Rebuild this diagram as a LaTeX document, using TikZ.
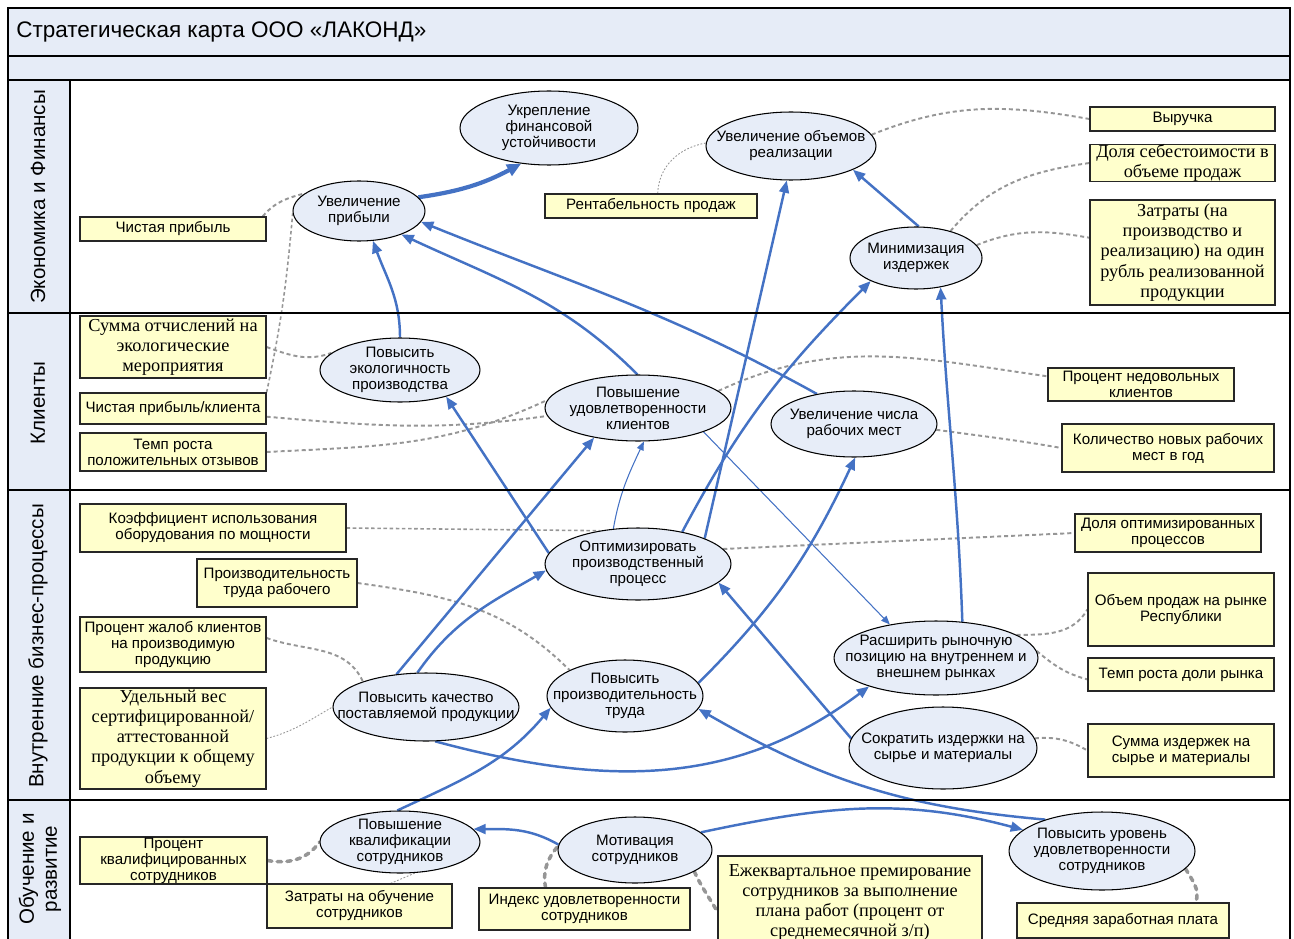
\documentclass[tikz,border=0pt]{standalone}
\usepackage{fontspec}
\setmainfont{Liberation Sans}
\newfontfamily\tnr{Liberation Serif}
\usetikzlibrary{shapes.geometric,arrows.meta,backgrounds}
\definecolor{bandfill}{RGB}{230,236,247}
\definecolor{goalfill}{RGB}{231,237,248}
\definecolor{kpifill}{RGB}{255,255,204}
\definecolor{arrblue}{RGB}{68,114,196}
\definecolor{linkgray}{RGB}{150,150,150}
\newcommand{\goalfont}{\fontsize{8.6}{9.1}\selectfont}
\newcommand{\kpiserif}{\tnr\fontsize{10.4}{11.5}\selectfont}
\newcommand{\lanefont}{\fontsize{11.7}{13}\selectfont}
\begin{document}
\begin{tikzpicture}[x=0.02cm, y=-0.02cm,
  goal/.style={ellipse, draw=black, line width=0.6pt, fill=goalfill, inner sep=0pt},
  goaltxt/.style={align=center, font=\goalfont, inner sep=0pt},
  kpi/.style={rectangle, draw=black!85, line width=0.7pt, fill=kpifill, inner sep=0pt, align=center, font=\goalfont},
  kpiser/.style={kpi, font=\kpiserif},
  arr/.style={draw=arrblue, line width=1.4pt, -{Triangle[length=7pt, width=5.6pt]}},
  arrthin/.style={draw=arrblue, line width=0.6pt, -{Triangle[length=5pt, width=4pt]}},
  arrbold/.style={draw=arrblue, line width=2.4pt, -{Triangle[length=8pt, width=7pt]}},
  link/.style={draw=linkgray, line width=1.1pt, dash pattern=on 2.3pt off 1.7pt},
  linkmid/.style={draw=linkgray, line width=0.9pt, dash pattern=on 2pt off 1.5pt},
  linkthin/.style={draw=linkgray, line width=0.5pt, dash pattern=on 1pt off 1pt},
  linkbold/.style={draw=linkgray, line width=2pt, dash pattern=on 2.5pt off 3pt, line cap=round},
  lanelabel/.style={rotate=90, align=center, font=\lanefont, inner sep=0pt}]
\useasboundingbox (0,0) rectangle (1294,939);

% frame and lanes
\fill[bandfill] (8,8) rectangle (1290,80);
\fill[bandfill] (8,80) rectangle (70,939);
\draw[line width=0.8pt] (8,939) -- (8,8) -- (1290,8) -- (1290,939);
\foreach \y in {56,80,313,490,800}
  \draw[line width=0.8pt] (8,\y) -- (1290,\y);
\draw[line width=0.8pt] (70,80) -- (70,939);
\node[anchor=west, font=\fontsize{12.8}{15}\selectfont, inner sep=0pt] (title) at (16,32) {Стратегическая карта ООО «ЛАКОНД»};
\node[lanelabel] (lane1) at (38,197) {Экономика и Финансы};
\node[lanelabel] (lane2) at (38,403) {Клиенты};
\node[lanelabel] (lane3) at (38,646) {Внутренние бизнес-процессы};
\node[lanelabel] (lane4) at (40,869) {Обучение и\\развитие};

% goals
\node[goal, minimum width=3.56cm, minimum height=1.48cm, label={[goaltxt]center:Укрепление\\финансовой\\устойчивости}] (ukr) at (549,128) {};
\node[goal, minimum width=2.64cm, minimum height=1.2cm, label={[goaltxt]center:Увеличение\\прибыли}] (prib) at (359,211) {};
\node[goal, minimum width=3.4cm, minimum height=1.36cm, label={[goaltxt]center:Увеличение объемов\\реализации}] (real) at (791,146) {};
\node[goal, minimum width=2.64cm, minimum height=1.24cm, label={[goaltxt]center:Минимизация\\издержек}] (min) at (916,258) {};
\node[goal, minimum width=3.2cm, minimum height=1.28cm, label={[goaltxt]center:Повысить\\экологичность\\производства}] (eco) at (400,370) {};
\node[goal, minimum width=3.72cm, minimum height=1.32cm, label={[goaltxt]center:Повышение\\удовлетворенности\\клиентов}] (udov) at (638,408) {};
\node[goal, minimum width=3.32cm, minimum height=1.32cm, label={[goaltxt]center:Увеличение числа\\рабочих мест}] (rab) at (854,424) {};
\node[goal, minimum width=3.72cm, minimum height=1.44cm, label={[goaltxt]center:Оптимизировать\\производственный\\процесс}] (opt) at (638,564) {};
\node[goal, minimum width=3.72cm, minimum height=1.36cm, label={[goaltxt]center:Повысить качество\\поставляемой продукции}] (kach) at (426,707) {};
\node[goal, minimum width=3.12cm, minimum height=1.44cm, label={[goaltxt]center:Повысить\\производительность\\труда}] (proizv) at (625,696) {};
\node[goal, minimum width=4.08cm, minimum height=1.48cm, label={[goaltxt]center:Расширить рыночную\\позицию на внутреннем и\\внешнем рынках}] (rynok) at (936,658) {};
\node[goal, minimum width=3.76cm, minimum height=1.64cm, label={[goaltxt]center:Сократить издержки на\\сырье и материалы}] (syr) at (943,748) {};
\node[goal, minimum width=3.2cm, minimum height=1.24cm, label={[goaltxt]center:Повышение\\квалификации\\сотрудников}] (kval) at (400,842) {};
\node[goal, minimum width=3.08cm, minimum height=1.32cm, label={[goaltxt]center:Мотивация\\сотрудников}] (motiv) at (635,850) {};
\node[goal, minimum width=3.72cm, minimum height=1.56cm, label={[goaltxt]center:Повысить уровень\\удовлетворенности\\сотрудников}] (udsotr) at (1102,851) {};

% indicators
\node[kpi, minimum width=3.72cm, minimum height=0.48cm] (chp) at (173,229) {Чистая прибыль};
\node[kpi, minimum width=4.24cm, minimum height=0.48cm] (rent) at (651,206) {Рентабельность продаж};
\node[kpi, minimum width=3.7cm, minimum height=0.48cm] (vyr) at (1182.5,119) {Выручка};
\node[kpiser, minimum width=3.7cm, minimum height=0.72cm] (sebest) at (1182.5,163) {Доля себестоимости в\\объеме продаж};
\node[kpiser, minimum width=3.7cm, minimum height=2.1cm] (zatr) at (1182.5,252.5) {Затраты (на\\производство и\\реализацию) на один\\рубль реализованной\\продукции};
\node[kpiser, minimum width=3.72cm, minimum height=1.24cm] (ekosum) at (173,347) {Сумма отчислений на\\экологические\\мероприятия};
\node[kpi, minimum width=3.72cm, minimum height=0.62cm] (chpk) at (173,408.5) {Чистая прибыль/клиента};
\node[kpi, minimum width=3.72cm, minimum height=0.76cm] (tempotz) at (173,452) {Темп роста\\положительных отзывов};
\node[kpi, minimum width=3.72cm, minimum height=0.66cm] (nedov) at (1141,384.5) {Процент недовольных\\клиентов};
\node[kpi, minimum width=4.24cm, minimum height=0.96cm] (novrab) at (1168,448) {Количество новых рабочих\\мест в год};
\node[kpi, minimum width=5.32cm, minimum height=0.96cm] (koef) at (213,528) {Коэффициент использования\\оборудования по мощности};
\node[kpi, minimum width=3.2cm, minimum height=0.96cm] (prtr) at (277,583) {Производительность\\труда рабочего};
\node[kpi, minimum width=3.72cm, minimum height=1.1cm] (zhalob) at (173,644.5) {Процент жалоб клиентов\\на производимую\\продукцию};
\node[kpiser, minimum width=3.72cm, minimum height=2.02cm] (udves) at (173,738.5) {Удельный вес\\сертифицированной/\\аттестованной\\продукции к общему\\объему};
\node[kpi, minimum width=3.72cm, minimum height=0.76cm] (dolopt) at (1168,533) {Доля оптимизированных\\процессов};
\node[kpi, minimum width=3.72cm, minimum height=1.46cm] (obprod) at (1181,609.5) {Объем продаж на рынке\\Республики};
\node[kpi, minimum width=3.72cm, minimum height=0.66cm] (temprynok) at (1181,674.5) {Темп роста доли рынка};
\node[kpi, minimum width=3.72cm, minimum height=1.06cm] (sumizd) at (1181,750.5) {Сумма издержек на\\сырье и материалы};
\node[kpi, minimum width=3.74cm, minimum height=0.94cm] (prockval) at (173.5,860.5) {Процент\\квалифицированных\\сотрудников};
\node[kpi, minimum width=3.7cm, minimum height=0.88cm] (zatrob) at (359.5,906) {Затраты на обучение\\сотрудников};
\node[kpi, minimum width=4.22cm, minimum height=0.84cm] (indeks) at (584.5,909) {Индекс удовлетворенности\\сотрудников};
\node[kpiser, minimum width=5.28cm, minimum height=1.86cm] (premir) at (850,902.5) {Ежеквартальное премирование\\сотрудников за выполнение\\плана работ (процент от\\среднемесячной з/п)};
\node[kpi, minimum width=4.24cm, minimum height=0.7cm] (sredzp) at (1123,920.5) {Средняя заработная плата};

\begin{scope}[on background layer]
% indicator links
\draw[link] (chp.8) to[out=50, in=195] (prib.162);
\draw[linkmid] (chpk.north east) to[out=78, in=-95] (prib.182);
\draw[linkthin] (rent.62) to[out=88, in=190] (real.178);
\draw[link] (real.8) to[out=22, in=170] (vyr.west);
\draw[link] (min.38) to[out=50, in=188] (sebest.west);
\draw[link] (min.12) to[out=22, in=170] (zatr.171);
\draw[link] (ekosum.east) to[out=-20, in=-160] (eco.166);
\draw[link] (chpk.-5) to[out=-5, in=188] (udov.-175);
\draw[link] (tempotz.east) to[out=3, in=-155] (udov.175);
\draw[link] (udov.12) to[out=25, in=172] (nedov.175);
\draw[link] (rab.-4) to[out=-8, in=170] (novrab.west);
\draw[linkmid] (koef.east) -- (opt.139);
\draw[link] (opt.10) -- (dolopt.west);
\draw[link] (prtr.east) to[out=-8, in=135] (proizv.155);
\draw[link] (zhalob.4) to[out=-20, in=115] (kach.158);
\draw[linkthin] (udves.east) to[out=15, in=-150] (kach.west);
\draw[link] (rynok.16) to[out=0, in=-120] (obprod.west);
\draw[link] (rynok.4) to[out=-40, in=165] (temprynok.-177);
\draw[link] (syr.6) to[out=5, in=150] (sumizd.west);
\draw[linkbold] (prockval.east) to[out=-10, in=-125] (kval.west);
\draw[linkthin] (zatrob.36) -- (kval.-64);
\draw[linkbold] (indeks.151) to[out=100, in=-130] (motiv.177);
\draw[linkbold] (motiv.-20) to[out=-65, in=120] (premir.-176);
\draw[linkbold] (udsotr.-12) to[out=-60, in=70] (sredzp.14);
% cause and effect
\draw[arrbold] (prib.13) to[bend right=10] (ukr.232);
\draw[arr] (eco.90) to[out=90, in=-70] (prib.-65);
\draw[arr] (udov.91) to[out=135, in=-25] (prib.-29);
\draw[arr] (rab.141) to[out=151, in=-22] (prib.-10);
\draw[arr] (opt.21) -- (real.-97);
\draw[arr] (opt.36) to[out=62, in=-135] (min.-153);
\draw[arr] (min.85) -- (real.-21);
\draw[arr] (rynok.54) to[out=92, in=-87] (min.-50);
\draw[arr] (opt.173) -- (eco.-30);
\draw[arr] (kach.132) -- (udov.-146);
\draw[arr] (kach.104) to[out=55, in=-150] (opt.-176);
\draw[arrthin] (opt.125) to[out=80, in=-115] (udov.-80);
\draw[arrthin] (udov.-20) -- (rynok.144);
\draw[arr] (proizv.10) to[out=45, in=-115] (rab.-88);
\draw[arr] (syr.174) -- (opt.-13);
\draw[arr] (kach.-75) to[out=-15, in=-143] (rynok.-157);
\draw[arr] (kval.95) to[out=25, in=-130] (proizv.-171);
\draw[arr] (udsotr.151) to[out=175, in=-30] (proizv.-10);
\draw[arr] (motiv.176) to[out=150, in=0] (kval.10);
\draw[arr] (motiv.15) to[out=12, in=165] (udsotr.165);
\end{scope}
\end{tikzpicture}
\end{document}
